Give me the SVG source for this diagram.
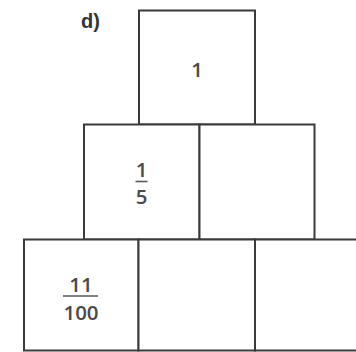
<svg xmlns="http://www.w3.org/2000/svg" width="356" height="352" viewBox="0 0 356 352">
  <style>
    .cell { fill: #ffffff; stroke: #3a3a3a; stroke-width: 2; }
    .num { font-family: "Open Sans", "Liberation Sans", sans-serif; font-weight: 600; font-size: 20.5px; fill: #4a4a4a; text-anchor: middle; }
    .bar { stroke: #5a5a5a; stroke-width: 1.6; }
    .label { font-family: "Liberation Sans", Arial, sans-serif; font-weight: bold; font-size: 20px; fill: #333333; }
  </style>
  <rect x="0" y="0" width="356" height="352" fill="#ffffff"/>

  <text class="label" x="81" y="28">d)</text>

  <!-- top row -->
  <g id="top">
    <rect class="cell" x="139" y="10.5" width="116" height="114"/>
    <text class="num" x="197" y="77">1</text>
  </g>

  <!-- middle row -->
  <g id="mid-left">
    <rect class="cell" x="84" y="124.5" width="115.5" height="115"/>
    <text class="num" x="141.5" y="177">1</text>
    <line class="bar" x1="135.5" y1="181.5" x2="147.5" y2="181.5"/>
    <text class="num" x="141.5" y="203.5">5</text>
  </g>
  <g id="mid-right">
    <rect class="cell" x="199.5" y="124.5" width="115" height="115"/>
  </g>

  <!-- bottom row -->
  <g id="bottom-left">
    <rect class="cell" x="24" y="239.5" width="114.5" height="111"/>
    <text class="num" x="81" y="292">11</text>
    <line class="bar" x1="63" y1="296" x2="98" y2="296"/>
    <text class="num" x="81" y="319.5">100</text>
  </g>
  <g id="bottom-mid">
    <rect class="cell" x="138.5" y="239.5" width="116.5" height="111"/>
  </g>
  <g id="bottom-right">
    <rect class="cell" x="255" y="239.5" width="110" height="111"/>
  </g>
</svg>
